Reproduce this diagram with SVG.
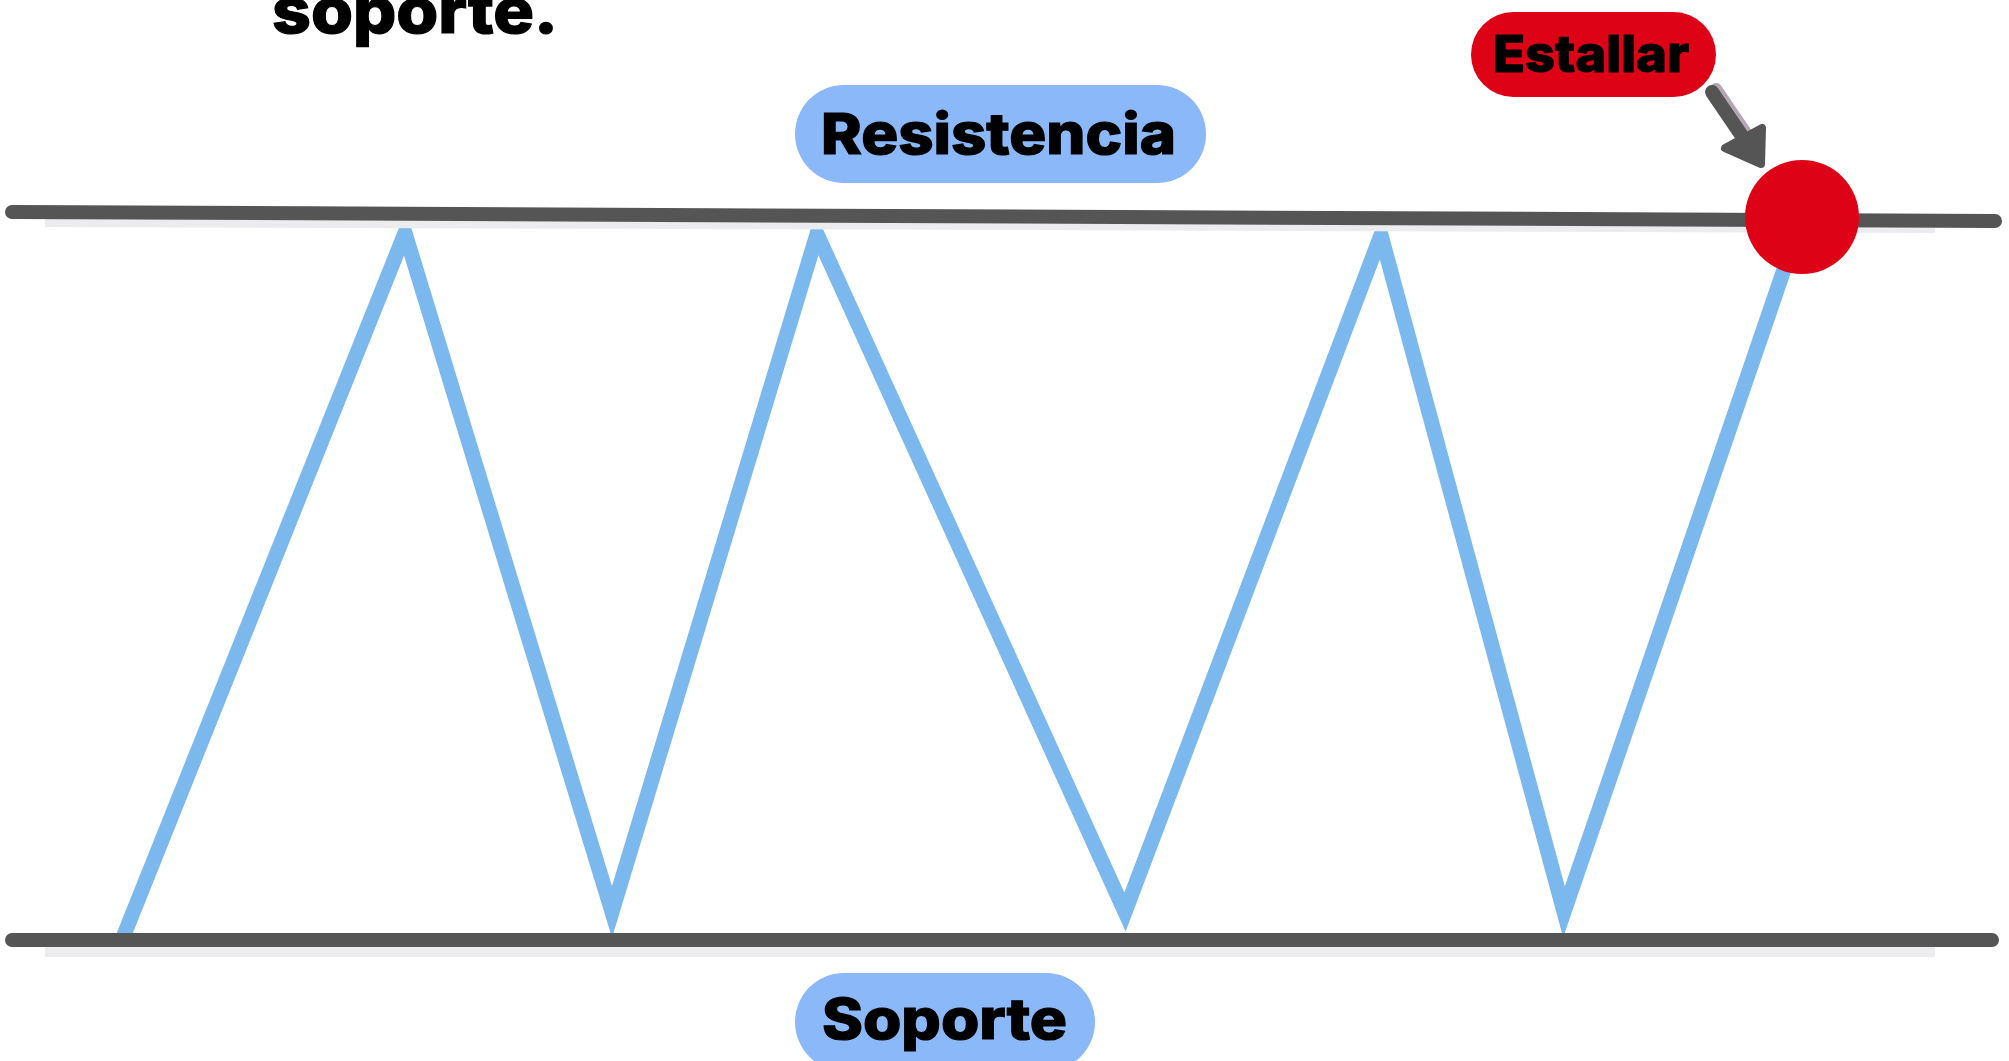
<svg xmlns="http://www.w3.org/2000/svg" width="2009" height="1061" viewBox="0 0 2009 1061">
<style>
.lbl{font-family:Inter,"Noto Sans","Liberation Sans",sans-serif;font-weight:800;fill:#000;stroke:#000;stroke-width:1.2}
.level{stroke:#555555;stroke-width:14;stroke-linecap:round;fill:none}
.shadow{stroke:#ececee;stroke-width:14;fill:none}
.pill-blue{fill:#8ab8f8}
.pill-red{fill:#de0217}
</style>
<rect width="2009" height="1061" fill="#ffffff"/>
<text class="lbl" x="272" y="33" font-size="64" textLength="286" lengthAdjust="spacingAndGlyphs">soporte.</text>
<g id="price">
<polyline points="120,945 405,233 612,912 817,234 1125,912 1381,235 1564,912 1802,217" fill="none" stroke="#7ab8ee" stroke-width="15" stroke-linejoin="miter" stroke-miterlimit="20"/>
</g>
<g id="connectors">
<line class="shadow" x1="45" y1="220" x2="1935" y2="226"/>
<line class="shadow" x1="45" y1="950" x2="1935" y2="950"/>
<line id="resistance-line" class="level" x1="12" y1="212" x2="1995" y2="221"/>
<line id="support-line" class="level" x1="12" y1="940" x2="1992" y2="940"/>
<g id="arrow">
<line x1="1716" y1="89" x2="1748" y2="136" stroke="#b3a7b3" stroke-width="12" stroke-linecap="round"/>
<line x1="1712" y1="92" x2="1744" y2="139" stroke="#555555" stroke-width="14" stroke-linecap="round"/>
<polygon points="1725,148 1762,128 1761,164" fill="#555555" stroke="#555555" stroke-width="8" stroke-linejoin="round"/>
</g>
</g>
<g id="breakout">
<circle cx="1802" cy="217" r="57" fill="#de0217"/>
</g>
<g id="resistencia">
<rect class="pill-blue" x="795" y="85" width="411" height="98" rx="49"/>
<text class="lbl" x="821" y="154" font-size="57" textLength="355" lengthAdjust="spacingAndGlyphs">Resistencia</text>
</g>
<g id="soporte">
<rect class="pill-blue" x="795" y="973" width="300" height="98" rx="49"/>
<text class="lbl" x="822" y="1039" font-size="56" textLength="245" lengthAdjust="spacingAndGlyphs">Soporte</text>
</g>
<g id="estallar">
<rect class="pill-red" x="1471" y="12" width="245" height="85" rx="42.5"/>
<text class="lbl" x="1493" y="72" font-size="51" textLength="196" lengthAdjust="spacingAndGlyphs">Estallar</text>
</g>
</svg>
